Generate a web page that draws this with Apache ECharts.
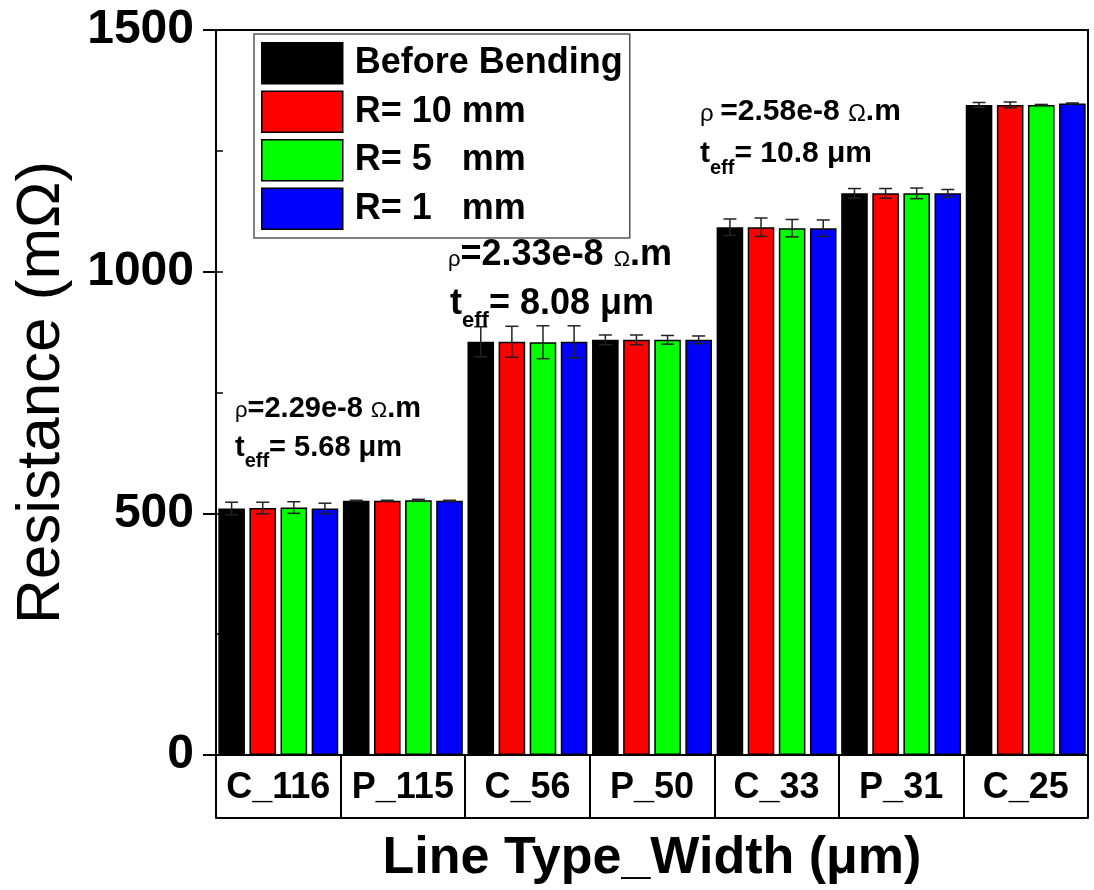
<!DOCTYPE html>
<html>
<head>
<meta charset="utf-8">
<script src="https://cdn.jsdelivr.net/npm/echarts@6/dist/echarts.min.js"></script>
<style>html,body{margin:0;padding:0;background:#fff}#c{width:1094px;height:890px}</style>
</head>
<body>
<div id="c"></div>
<script>
const categories = ['C_116', 'P_115', 'C_56', 'P_50', 'C_33', 'P_31', 'C_25'];
const seriesNames = ['Before Bending', 'R= 10 mm', 'R= 5   mm', 'R= 1   mm'];
const before = [510, 526, 855, 859, 1092, 1162, 1345];
const r10 = [511, 526, 855, 859, 1092, 1162, 1345];
const r5 = [512, 527, 854, 859, 1090, 1162, 1345];
const r1 = [510, 526, 855, 859, 1090, 1162, 1348];
const errBefore = [13, 1, 31, 10, 17, 10, 5];
const errR10 = [12, 1, 32, 10, 19, 10, 6];
const errR5 = [12, 2, 34, 9, 18, 11, 1];
const errR1 = [11, 1, 33, 8, 17, 8, 1];
const yTicks = [0, 500, 1000, 1500];

const colors = ['#000000', '#ff0000', '#00ff00', '#0000ff'];
const values = [before, r10, r5, r1];
const errors = [errBefore, errR10, errR5, errR1];
const FONT = 'Liberation Sans, Arial, sans-serif';
const CAT_GAP = 0.0375, BAR_GAP = 0.17;

const chart = echarts.init(document.getElementById('c'));

const barSeries = seriesNames.map((name, s) => ({
  name, type: 'bar', data: values[s],
  barCategoryGap: (CAT_GAP * 100) + '%', barGap: (BAR_GAP * 100) + '%',
  itemStyle: { color: colors[s], borderColor: '#000', borderWidth: 1.5 },
  emphasis: { disabled: true }
}));

const errData = [];
errors.forEach((arr, s) => arr.forEach((e, i) => errData.push([i, values[s][i], e, s])));

const errSeries = {
  type: 'custom', name: 'err', data: errData, z: 10,
  encode: { x: 0, y: 1 },
  renderItem(params, api) {
    const i = api.value(0), v = api.value(1), e = api.value(2), s = api.value(3);
    const bandW = api.size([1, 0])[0];
    const inner = bandW * (1 - CAT_GAP);
    const bw = inner / (4 + 3 * BAR_GAP);
    const off = -inner / 2 + s * bw * (1 + BAR_GAP) + bw / 2;
    const top = api.coord([i, v + e]);
    const bot = api.coord([i, v - e]);
    const x = top[0] + off;
    const cap = 6.5;
    const st = { stroke: '#222', lineWidth: 1.5 };
    return { type: 'group', children: [
      { type: 'line', shape: { x1: x, y1: top[1], x2: x, y2: bot[1] }, style: st },
      { type: 'line', shape: { x1: x - cap, y1: top[1], x2: x + cap, y2: top[1] }, style: st },
      { type: 'line', shape: { x1: x - cap, y1: bot[1], x2: x + cap, y2: bot[1] }, style: st }
    ]};
  }
};

function richFor(fs, sf, sub, subDrop) {
  return {
    b: { fontSize: fs, fontWeight: 'bold', lineHeight: fs, verticalAlign: 'top', fontFamily: FONT, color: '#000' },
    g: { fontSize: sf, fontWeight: 'normal', lineHeight: sf, verticalAlign: 'top', fontFamily: FONT, color: '#000',
         padding: [0.86 * (fs - sf), 0, 0, 0] },
    s: { fontSize: sub, fontWeight: 'bold', lineHeight: sub, verticalAlign: 'top', fontFamily: FONT, color: '#000',
         padding: [0.86 * (fs - sub) + subDrop, 0, 0, 0] }
  };
}
function annot(x, y, text, rich) {
  return { type: 'text', x, y, z: 20, style: { text, rich, verticalAlign: 'top', align: 'left', fill: '#000' } };
}
const rich1 = richFor(29, 22, 20, 11);
const rich2 = richFor(36, 22, 22, 12);
const rich3 = richFor(30, 24, 20, 11);

chart.setOption({
  animation: false,
  backgroundColor: '#fff',
  grid: { left: 216, right: 6, top: 30, bottom: 135, show: true, borderColor: '#000', borderWidth: 2, backgroundColor: 'transparent' },
  legend: {
    data: seriesNames, orient: 'vertical', left: 254, top: 34,
    padding: [8, 7, 8, 7], itemGap: 6, itemWidth: 81, itemHeight: 41,
    borderColor: '#555', borderWidth: 1.5, backgroundColor: '#fff',
    icon: 'rect', selectedMode: false,
    itemStyle: { borderColor: '#000', borderWidth: 1.5 },
    textStyle: { fontFamily: FONT, fontWeight: 'bold', fontSize: 36, color: '#000', padding: [0, 0, 0, 7] }
  },
  xAxis: [
    {
      type: 'category', data: categories, position: 'bottom',
      axisLine: { show: true, onZero: false, lineStyle: { color: '#000', width: 2 } },
      axisTick: { show: true, interval: 0, length: 63, alignWithLabel: false, lineStyle: { color: '#000', width: 2 } },
      axisLabel: { interval: 0, fontFamily: FONT, fontWeight: 'bold', fontSize: 36, color: '#000', margin: 15 },
      splitLine: { show: false }
    },
    {
      type: 'category', data: categories, position: 'bottom', offset: 63,
      axisLine: { show: true, onZero: false, lineStyle: { color: '#000', width: 2 } },
      axisTick: { show: false }, axisLabel: { show: false }, splitLine: { show: false },
      name: 'Line Type_Width (μm)', nameLocation: 'middle', nameGap: 15,
      nameTextStyle: { fontFamily: FONT, fontWeight: 'bold', fontSize: 52, color: '#000' }
    }
  ],
  yAxis: [
    {
      type: 'value', min: yTicks[0], max: yTicks[yTicks.length - 1], interval: 500, position: 'left',
      axisLine: { show: true, lineStyle: { color: '#000', width: 2 } },
      axisTick: { show: true, length: 13, inside: false, lineStyle: { color: '#000', width: 2 } },
      axisLabel: { fontFamily: FONT, fontWeight: 'bold', fontSize: 48, color: '#000', margin: 22,
                   formatter: v => String(v) },
      splitLine: { show: false },
      name: 'Resistance (mΩ)', nameLocation: 'middle', nameGap: 143,
      nameTextStyle: { fontFamily: FONT, fontSize: 62, color: '#000' }
    },
    {
      type: 'value', min: 0, max: 1500, interval: 250, position: 'left',
      axisLine: { show: false },
      axisTick: { show: true, length: 7, inside: true, lineStyle: { color: '#000', width: 1.5 } },
      axisLabel: { show: false }, splitLine: { show: false }
    }
  ],
  series: [...barSeries, errSeries],
  graphic: [
    annot(235, 394, '{g|ρ}{b|=2.29e-8 }{g|Ω}{b|.m}', rich1),
    annot(235, 433, '{b|t}{s|eff}{b|= 5.68 μm}', rich1),
    annot(448, 237, '{g|ρ}{b|=2.33e-8 }{g|Ω}{b|.m}', rich2),
    annot(450, 286, '{b|t}{s|eff}{b|= 8.08 μm}', rich2),
    annot(700, 97, '{g|ρ }{b|=2.58e-8 }{g|Ω}{b|.m}', rich3),
    annot(700, 139, '{b|t}{s|eff}{b|= 10.8 μm}', rich3)
  ]
});
</script>
</body>
</html>
